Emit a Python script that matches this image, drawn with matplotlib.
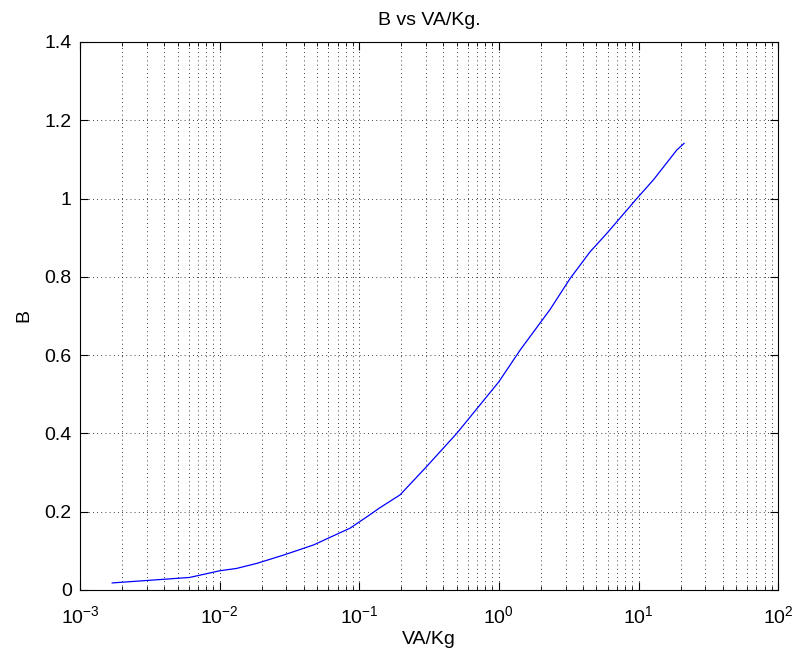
import numpy as np
import matplotlib
matplotlib.use('Agg')
import matplotlib.pyplot as plt
from matplotlib.ticker import LogLocator, FixedLocator, NullFormatter

plt.rcParams['font.family'] = ['Liberation Sans', 'DejaVu Sans']
plt.rcParams['mathtext.fontset'] = 'custom'
plt.rcParams['mathtext.rm'] = 'Liberation Sans'
plt.rcParams['mathtext.it'] = 'Liberation Sans'

# values
va_kg = [0.0017, 0.0061, 0.010, 0.0132, 0.0185, 0.0286, 0.047, 0.086, 0.119,
         0.139, 0.196, 0.296, 0.499, 1.0, 1.42, 2.33, 3.24, 4.5, 5.93,
         9.72, 12.8, 18.8, 21.2]
b_vals = [0.018, 0.032, 0.049, 0.055, 0.068, 0.089, 0.115, 0.158, 0.192,
          0.209, 0.243, 0.311, 0.400, 0.532, 0.613, 0.717, 0.796, 0.864, 0.911,
          1.0, 1.048, 1.124, 1.141]
y_ticks = [0, 0.2, 0.4, 0.6, 0.8, 1.0, 1.2, 1.4]
y_labels = ['0', '0.2', '0.4', '0.6', '0.8', '1', '1.2', '1.4']

fig = plt.figure(figsize=(7.94, 6.54), dpi=100)
ax = fig.add_axes([0.1008, 0.0979, 0.8792, 0.8379])

ax.semilogx(va_kg, b_vals, color='blue', linewidth=0.9)
ax.set_xlim(1e-3, 1e2)
ax.set_ylim(0, 1.4)
ax.xaxis.set_major_locator(LogLocator(base=10, numticks=10))
ax.xaxis.set_minor_locator(LogLocator(base=10, subs=np.arange(2, 10), numticks=20))
ax.xaxis.set_minor_formatter(NullFormatter())
ax.yaxis.set_major_locator(FixedLocator(y_ticks))
ax.set_yticklabels(y_labels)

ax.grid(True, which='major', linestyle=(0, (1, 4)), color='black', linewidth=0.6)
ax.grid(True, which='minor', axis='x', linestyle=(0, (1, 4)), color='black', linewidth=0.6)
ax.tick_params(which='both', direction='in', top=True, right=True, labelsize=14)
ax.tick_params(which='major', length=6)
ax.tick_params(which='minor', length=3)
ax.tick_params(axis='x', which='major', pad=11)
ax.tick_params(axis='y', which='major', pad=6)
for s in ax.spines.values():
    s.set_linewidth(0.8)

ax.set_title('B vs VA/Kg.', fontsize=14, pad=12)
ax.set_xlabel('VA/Kg', fontsize=14, labelpad=3)
ax.set_ylabel('B', fontsize=14, labelpad=9)

fig.savefig('out.png', dpi=100)
